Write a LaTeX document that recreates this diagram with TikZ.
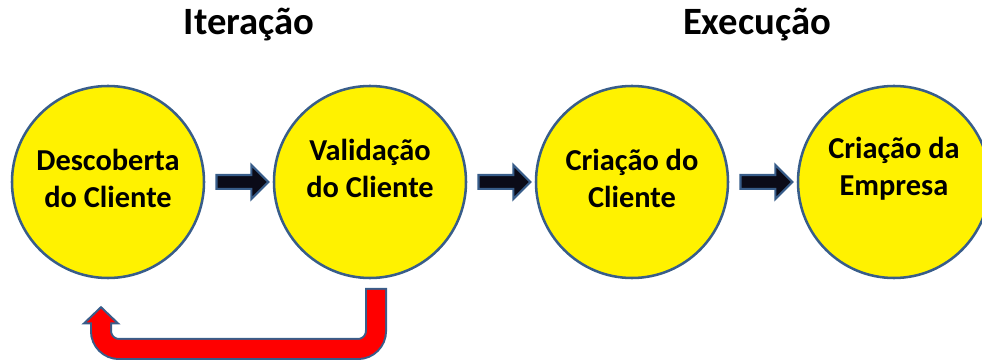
\documentclass[tikz,border=0pt]{standalone}
\usepackage{fontspec}
\setmainfont{Carlito}
\usepackage{tikz}
\usetikzlibrary{arrows,arrows.meta,shapes,shapes.arrows}
\usetikzlibrary{calc}

\definecolor{shapeline}{HTML}{385D8A}
\definecolor{arrowfill}{HTML}{0B0B18}

\begin{document}
\begin{tikzpicture}[x=0.75pt,y=0.75pt,node distance=196.5pt,
        stage/.style={circle,minimum size=144pt,inner sep=0pt,line width=1.9pt,draw=shapeline,fill=yellow},
        caption/.style={align=center,inner sep=0pt,font=\bfseries\fontsize{22.8pt}{27.75pt}\selectfont},
        heading/.style={anchor=base,inner sep=0pt,font=\bfseries\fontsize{29pt}{34pt}\selectfont},
        blockarrow/.style={single arrow,minimum height=39pt,inner xsep=0pt,inner ysep=4.4pt,
          single arrow head extend=7.6pt,line width=1.6pt,draw=shapeline,fill=arrowfill}]

        \clip (0,0) rectangle (982,360);

        \node [stage] (c1) at (108,178) {};
        \node [stage] (c2) [right of=c1] {};
        \node [stage] (c3) [right of=c2] {};
        \node [stage] (c4) [right of=c3] {};

        \node [caption] (t1) [above of=c1, node distance=2.6pt]  {Descoberta\\do Cliente};
        \node [caption] (t2) [above of=c2, node distance=10.1pt] {Validação\\do Cliente};
        \node [caption] (t3) [above of=c3, node distance=2.6pt]  {Criação do\\Cliente};
        \node [caption] (t4) [above of=c4, node distance=10.1pt] {Criação da\\Empresa};

        \node [heading] (iter) at (249,325) {Iteração};
        \node [heading] (exec) at (757,325) {Execução};

        \node [blockarrow] (a12) at ($(c1)!.5!(c2)$) {};
        \node [blockarrow] (a23) at ($(c2)!.5!(c3)$) {};
        \node [blockarrow] (a34) at ($(c3)!.5!(c4)$) {};

        % loop back from validation to discovery
        \coordinate (fb1) at ([xshift=4.5pt,yshift=-6.4pt]c2.south);
        \coordinate (fb2) at ([xshift=-5.25pt,yshift=-19.9pt]c1.south);
        \coordinate (fbturn) at (fb2 |- 0,11);
        \draw [line width=16.5pt,draw=shapeline,rounded corners=13.5pt,
          -{Triangle[width=29pt,length=14pt,fill=red,line width=1.5pt]}]
          (fb1) |- (fbturn) -- (fb2);
        \draw [line width=13.5pt,draw=red,rounded corners=13.5pt,shorten >=12pt]
          ([yshift=-1.5pt]fb1) |- (fbturn) -- (fb2);
\end{tikzpicture}
\end{document}
